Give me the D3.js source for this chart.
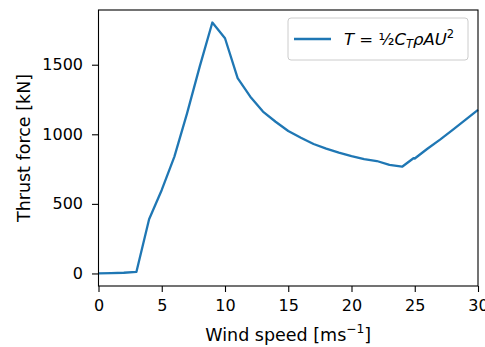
<!DOCTYPE html>
<html>
<head>
<meta charset="utf-8">
<script src="https://cdn.jsdelivr.net/npm/d3@7"></script>
<style>
  html, body { margin: 0; padding: 0; background: #fff; }
  svg { display: block; font-family: "DejaVu Sans", sans-serif; }
</style>
</head>
<body>
<svg id="chart" width="485" height="347"></svg>
<script>
// Wind speed [m/s] and rotor thrust [kN]
const windSpeed = [0, 1, 2, 3, 4, 5, 6, 7, 8, 9, 10, 11, 12, 13, 14, 15, 16, 17, 18, 19, 20, 21, 22, 23, 24, 24.9, 25, 26, 27, 28, 29, 30];
const thrust    = [0, 2, 5, 12, 390, 600, 840, 1150, 1486, 1803, 1690, 1403, 1270, 1163, 1090, 1024, 975, 930, 897, 868, 843, 822, 808, 780, 767, 828, 826, 896, 962, 1032, 1103, 1175];
const xTicks = [0, 5, 10, 15, 20, 25, 30];
const yTicks = [0, 500, 1000, 1500];

const svg = d3.select("#chart");
const m = { left: 98.5, right: 478, top: 10, bottom: 286 };

const x = d3.scaleLinear().domain([0, 30]).range([m.left, m.right]);
const yMax = d3.max(thrust);
const pad = yMax * 0.05;
const y = d3.scaleLinear().domain([-pad, yMax + pad]).range([m.bottom, m.top]);

const tickFs = 16;
const labelFs = 17.5;

// curve
svg.append("path")
  .datum(windSpeed.map((w, i) => [w, thrust[i]]))
  .attr("fill", "none")
  .attr("stroke", "#1f77b4")
  .attr("stroke-width", 2.3)
  .attr("stroke-linejoin", "round")
  .attr("d", d3.line().x(d => x(d[0])).y(d => y(d[1])));

// axes
const xAxis = svg.append("g")
  .attr("transform", `translate(0,${m.bottom})`)
  .call(d3.axisBottom(x).tickValues(xTicks).tickFormat(d3.format("d")).tickSize(6).tickPadding(8));
const yAxis = svg.append("g")
  .attr("transform", `translate(${m.left},0)`)
  .call(d3.axisLeft(y).tickValues(yTicks).tickFormat(d3.format("d")).tickSize(6.5).tickPadding(9));
[xAxis, yAxis].forEach(g => {
  g.select(".domain").remove();
  g.selectAll("line").attr("stroke", "#000").attr("stroke-width", 1.1);
  g.selectAll("text").attr("font-size", tickFs).attr("font-family", "DejaVu Sans").attr("fill", "#000");
});

// frame
svg.append("rect")
  .attr("x", m.left).attr("y", m.top)
  .attr("width", m.right - m.left).attr("height", m.bottom - m.top)
  .attr("fill", "none").attr("stroke", "#000").attr("stroke-width", 1.1);

// axis labels
const xl = svg.append("text")
  .attr("x", (m.left + m.right) / 2).attr("y", 341)
  .attr("text-anchor", "middle").attr("font-size", labelFs);
xl.append("tspan").text("Wind speed [ms");
xl.append("tspan").attr("font-size", labelFs * 0.7).attr("dy", -8).text("\u22121");
xl.append("tspan").attr("dy", 8).text("]");

svg.append("text")
  .attr("transform", `translate(30,${(m.top + m.bottom) / 2}) rotate(-90)`)
  .attr("text-anchor", "middle").attr("font-size", labelFs)
  .text("Thrust force [kN]");

// legend
const lg = svg.append("g");
lg.append("rect")
  .attr("x", 288).attr("y", 18).attr("width", 180).attr("height", 42).attr("rx", 3)
  .attr("fill", "#fff").attr("fill-opacity", 0.8)
  .attr("stroke", "#ccc").attr("stroke-width", 1);
lg.append("line")
  .attr("x1", 294).attr("x2", 331).attr("y1", 39).attr("y2", 39)
  .attr("stroke", "#1f77b4").attr("stroke-width", 2.3);
const legFs = 16.5;
const lt = lg.append("text").attr("x", 344).attr("y", 45).attr("font-size", legFs);
lt.append("tspan").attr("font-style", "italic").text("T");
lt.append("tspan").text(" = ");
lt.append("tspan").text("\u00BD");
lt.append("tspan").attr("font-style", "italic").text("C");
lt.append("tspan").attr("font-style", "italic").attr("font-size", legFs * 0.7).attr("dy", 3).text("T");
lt.append("tspan").attr("font-style", "italic").attr("dy", -3).text("\u03C1AU");
lt.append("tspan").attr("font-size", legFs * 0.7).attr("dy", -7).text("2");
</script>
</body>
</html>
